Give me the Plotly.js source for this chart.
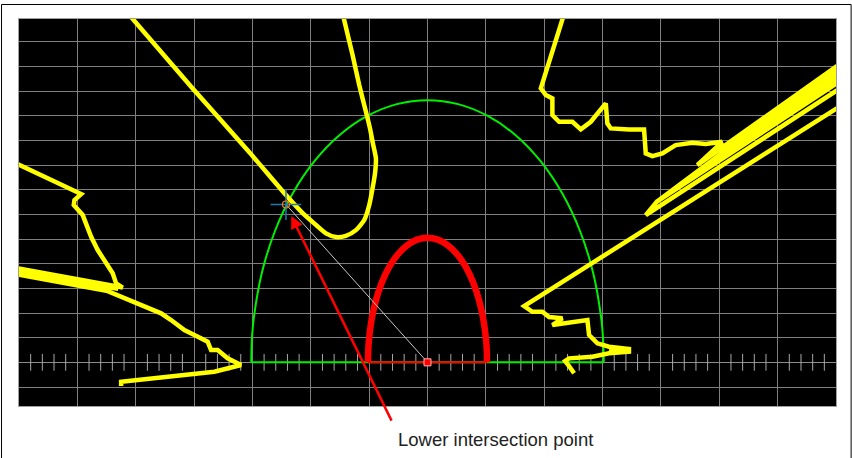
<!DOCTYPE html>
<html>
<head>
<meta charset="utf-8">
<script src="https://cdn.plot.ly/plotly-3.0.1.min.js"></script>
<style>html,body{margin:0;padding:0;background:#fff;}#chart{width:852px;height:458px;}</style>
</head>
<body>
<div id="chart"></div>
<script>
// ---- axis ranges (data units) ----
const xRange = [-7, 7];
const yRange = [-1.77, 13.92];

// ---- green outer arc (semi-ellipse) ----
const greenArcX = [3.02, 3.009, 2.974, 2.838, 2.615, 2.313, 1.941, 1.51, 1.033, 0.524, 0, -0.524, -1.033, -1.51, -1.941, -2.313, -2.615, -2.838, -2.974, -3.009, -3.02];
const greenArcY = [0, 0.927, 1.846, 3.636, 5.315, 6.833, 8.143, 9.206, 9.989, 10.469, 10.63, 10.469, 9.989, 9.206, 8.143, 6.833, 5.315, 3.636, 1.846, 0.927, 0];
const greenBaseX = [-3.02, 3.02];
const greenBaseY = [0, 0];

// ---- red inner arc ----
const redArcX = [1.02, 1.016, 1.005, 0.958, 0.883, 0.781, 0.656, 0.51, 0.349, 0.177, 0, -0.177, -0.349, -0.51, -0.656, -0.781, -0.883, -0.958, -1.005, -1.016, -1.02];
const redArcY = [0, 0.440, 0.877, 1.727, 2.525, 3.246, 3.868, 4.373, 4.745, 4.973, 5.05, 4.973, 4.745, 4.373, 3.868, 3.246, 2.525, 1.727, 0.877, 0.440, 0];
const redBaseX = [-1.02, 1.02];
const redBaseY = [0, 0];

// ---- yellow traces ----
const yellowAX = [-5.08, -4.024, -3.053, -2.425, -2.14, -1.91, -1.74, -1.57, -1.40, -1.226, -1.084, -0.998, -0.942, -0.896, -0.884, -0.930, -0.986, -1.055, -1.17, -1.284, -1.45];
const yellowAY = [14.0, 11.10, 8.52, 6.78, 6.05, 5.57, 5.23, 5.08, 5.13, 5.36, 5.77, 6.38, 7.05, 7.73, 8.27, 8.81, 9.49, 10.16, 11.24, 12.46, 14.1];

const yellowBX = [-7.163, -6.050, -5.935, -6.050, -6.062, -5.908, -5.849, -5.764, -5.651, -5.507, -5.394, -5.336, -5.223, -7.419, -7.419, -5.30, -7.419, -5.479, -5.193, -5.022, -4.795, -4.565, -4.394, -4.166, -3.995, -3.767, -3.709, -3.596, -3.425, -3.195, -3.652, -4.223, -4.795, -5.250, -5.250];
const yellowBY = [8.196, 6.915, 6.822, 6.579, 6.376, 5.971, 5.565, 5.091, 4.552, 4.013, 3.608, 3.202, 3.032, 3.985, 3.863, 2.980, 3.741, 2.890, 2.594, 2.456, 2.189, 1.986, 1.715, 1.309, 1.107, 0.835, 0.499, 0.499, 0.162, -0.109, -0.381, -0.515, -0.689, -0.786, -0.961];

const yellowCX = [2.324, 2.199, 2.084, 1.981, 1.942, 2.027, 2.140, 2.140, 2.255, 2.483, 2.627, 2.798, 3.055, 3.082, 3.140, 3.454, 3.711, 3.740, 3.853, 4.024, 4.253, 4.538, 4.767, 5.051,
  4.623, 7.735, 3.933, 7.735, 3.933, 7.735, 3.933, 7.735, 3.933, 7.735, 3.933, 3.740, 7.735, 7.735, 1.656, 1.798, 1.969, 2.084, 2.312, 2.140, 2.740, 2.769, 2.911, 3.111, 3.488, 3.111, 3.488, 3.111, 2.825, 2.426, 2.358, 2.426, 2.512];
const yellowCY = [13.997, 13.065, 12.254, 11.524, 11.107, 10.835, 10.701, 10.024, 9.753, 9.753, 9.445, 9.753, 10.499, 9.688, 9.485, 9.445, 9.445, 8.472, 8.362, 8.472, 8.808, 8.902, 8.849, 8.942,
  7.998, 13.217, 6.518, 13.014, 6.518, 12.812, 6.518, 12.610, 6.518, 12.433, 6.518, 5.971, 12.136, 11.374, 2.282, 2.051, 2.051, 1.836, 1.784, 1.512, 1.715, 1.107, 0.770, 0.632, 0.527, 0.499, 0.438, 0.365, 0.227, 0.162, 0.053, -0.150, -0.446];

// ---- intersection point and connector ----
const crossX = [-2.425];
const crossY = [6.40];
const connectorX = [0, -2.425];
const connectorY = [0, 6.40];
const originX = [0];
const originY = [0];

// ---- small ticks on the base axis ----
const tickX = [-6.8, -6.6, -6.4, -6.2, -5.8, -5.6, -5.4, -5.2, -4.8, -4.6, -4.4, -4.2, -3.8, -3.6, -3.4, -3.2, -2.8, -2.6, -2.4, -2.2, -1.8, -1.6, -1.4, -1.2, -0.8, -0.6, -0.4, -0.2,
  0.2, 0.4, 0.6, 0.8, 1.2, 1.4, 1.6, 1.8, 2.2, 2.4, 2.6, 2.8, 3.2, 3.4, 3.6, 3.8, 4.2, 4.4, 4.6, 4.8, 5.2, 5.4, 5.6, 5.8, 6.2, 6.4, 6.6, 6.8];
const tickY = tickX.map(() => 0);

// ---- annotation ----
const annotationText = 'Lower intersection point';
const arrowTip = [-2.334, 5.93];

const yellow = '#ffff00';
const traces = [
  {x: tickX, y: tickY, mode: 'markers', marker: {symbol: 'line-ns', size: 12, line: {color: '#a8a8a8', width: 1}}, hoverinfo: 'skip'},
  {x: greenBaseX, y: greenBaseY, mode: 'lines', line: {color: '#00f000', width: 2}},
  {x: greenArcX, y: greenArcY, mode: 'lines', line: {color: '#00f000', width: 2, shape: 'spline', smoothing: 1}},
  {x: redArcX, y: redArcY, mode: 'lines', line: {color: '#ff0000', width: 6.5, shape: 'spline', smoothing: 1}},
  {x: yellowAX, y: yellowAY, mode: 'lines', line: {color: yellow, width: 4.5, shape: 'spline', smoothing: 0.6}},
  {x: yellowBX, y: yellowBY, mode: 'lines', line: {color: yellow, width: 4.5}},
  {x: yellowCX, y: yellowCY, mode: 'lines', line: {color: yellow, width: 4.5}},
  {x: connectorX, y: connectorY, mode: 'lines', line: {color: '#c8c8c8', width: 1}},
  {x: redBaseX, y: redBaseY, mode: 'lines', line: {color: '#ff0000', width: 2}},
  {x: originX, y: originY, mode: 'markers', marker: {symbol: 'square', size: 7, color: '#ff0000', line: {color: '#ffb0b0', width: 1}}},
  {x: crossX, y: crossY, mode: 'markers', marker: {symbol: 'cross-thin-open', size: 22, line: {color: '#1010e0', width: 1.5}}},
  {x: crossX, y: crossY, mode: 'markers', marker: {symbol: 'circle-open', size: 7, line: {color: '#1010e0', width: 1.2}}}
];

const layout = {
  width: 852, height: 458,
  margin: {l: 19, r: 16, t: 19, b: 52, pad: 0},
  paper_bgcolor: '#ffffff',
  plot_bgcolor: '#000000',
  showlegend: false,
  xaxis: {range: xRange, tick0: 0, dtick: 1, showgrid: true, gridcolor: '#7f7f7f', gridwidth: 1,
          zeroline: false, showticklabels: false, ticks: '', showline: true, linecolor: '#a0a0a0',
          linewidth: 1, mirror: true, fixedrange: true},
  yaxis: {range: yRange, tick0: 0, dtick: 1, showgrid: true, gridcolor: '#7f7f7f', gridwidth: 1,
          zeroline: true, zerolinecolor: '#8c8c8c', zerolinewidth: 1, showticklabels: false, ticks: '',
          showline: true, linecolor: '#a0a0a0', linewidth: 1, mirror: true, fixedrange: true},
  shapes: [
    {type: 'rect', xref: 'paper', yref: 'paper', x0: -0.0214, x1: 1.0185, y0: -0.17, y1: 1.0375,
     line: {color: '#000000', width: 1}, fillcolor: 'rgba(0,0,0,0)', layer: 'above'}
  ],
  annotations: [
    {x: arrowTip[0], y: arrowTip[1], xref: 'x', yref: 'y', text: '', showarrow: true,
     arrowhead: 2, arrowsize: 1, arrowwidth: 2.5, arrowcolor: '#ff0000', ax: 101, ay: 206, standoff: 0},
    {x: 0.5832, y: -0.0853, xref: 'paper', yref: 'paper', text: annotationText, showarrow: false,
     xanchor: 'center', yanchor: 'middle',
     font: {family: 'Liberation Sans, Arial, sans-serif', size: 18.5, color: '#222222'}}
  ]
};

Plotly.newPlot('chart', traces, layout, {displayModeBar: false, staticPlot: true});
</script>
</body>
</html>
